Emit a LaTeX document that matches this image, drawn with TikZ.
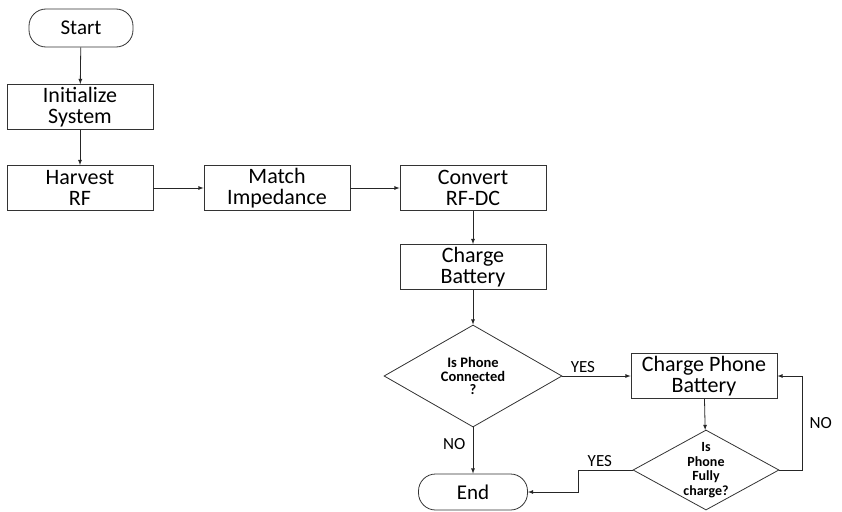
\documentclass[tikz,border=0pt]{standalone}
\usepackage{fontspec}
\setmainfont{Carlito}
\usetikzlibrary{shapes.geometric, arrows, positioning}
\tikzstyle{startstop} = [rectangle, rounded corners=17pt, minimum width=104pt, minimum height=38pt, text centered, draw=black!80, line width=0.8pt, font=\fontsize{21}{22}\selectfont]
\tikzstyle{process} = [rectangle, minimum width=146pt, minimum height=45pt, align=center, draw=black!80, line width=0.8pt, inner sep=1pt, font=\fontsize{22}{20.5}\selectfont]
\tikzstyle{decision} = [diamond, align=center, draw=black!80, line width=0.8pt, inner sep=0pt, font=\bfseries\fontsize{14.5}{13.5}\selectfont]
\tikzstyle{arrow} = [line width=0.8pt, draw=black!85, ->, >=latex]
\tikzstyle{answer} = [font=\fontsize{17}{18}\selectfont]

\begin{document}
\begin{tikzpicture}[x=1pt, y=-1pt]
\useasboundingbox (0,0) rectangle (842,511);

% Nodes
\node (start) [startstop] at (81,28) {Start};
\node (init) [process] at (80,107) {Initialize\\System};
\node (harvest) [process] at (80,188) {Harvest\\RF};
\node (match) [process] at (277,188) {Match\\Impedance};
\node (convert) [process] at (473,188) {Convert\\RF-DC};
\node (battery) [process] at (473,267) {Charge\\Battery};
\node (connected) [decision, minimum width=178pt, minimum height=102pt, aspect=1.75] at (473,376) {Is Phone\\Connected\\?};
\node (phone) [process] at (704,376) {Charge Phone\\Battery};
\node (full) [decision, minimum width=146pt, minimum height=80pt, aspect=1.8, font=\bfseries\fontsize{14}{14.5}\selectfont] at (706,470) {Is\\Phone\\Fully\\charge?};
\node (stop) [startstop, minimum width=109pt, minimum height=36pt] at (473,492) {End};
\coordinate (loop) at (802,470);
\coordinate (back) at (578,470);

% Arrows
\draw [arrow] (start) -- (init);
\draw [arrow] (init) -- (harvest);
\draw [arrow] (harvest) -- (match);
\draw [arrow] (match) -- (convert);
\draw [arrow] (convert) -- (battery);
\draw [arrow] (battery) -- (connected);
\draw [arrow] (connected) -- node[answer, anchor=east, pos=0.35, xshift=-4pt] {NO} (stop);
\draw [arrow] (connected) -- node[answer, anchor=south, pos=0.3] {YES} (phone);
\draw [arrow] (phone) -- (full);
\draw [arrow] (full.east) -- (loop) |- node[answer, anchor=west, pos=0.25, xshift=4pt] {NO} (phone.east);
\draw [arrow] (full.west) -- node[answer, anchor=south, pos=0.6] {YES} (back) |- (stop.east);

\end{tikzpicture}
\end{document}
